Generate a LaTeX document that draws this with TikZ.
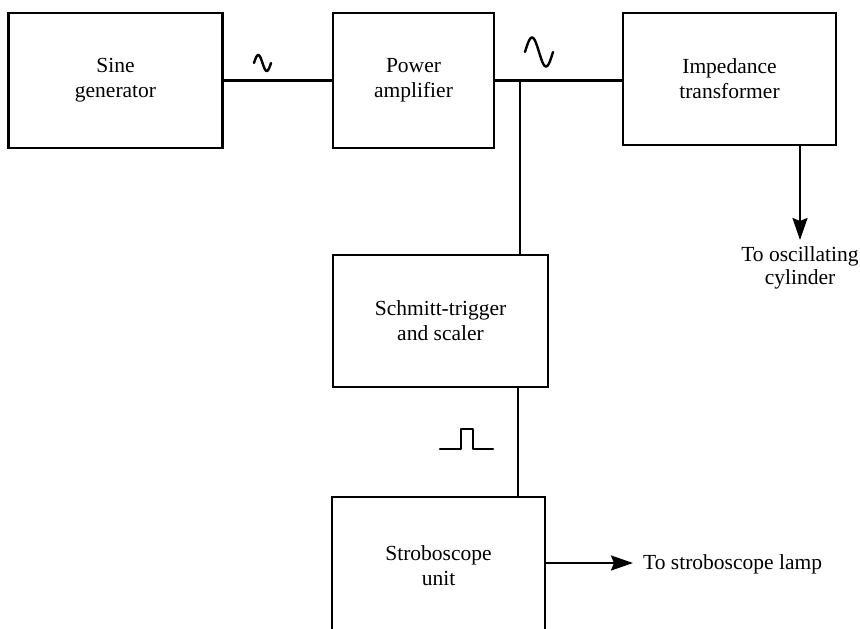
\documentclass[tikz,border=0pt]{standalone}
\usepackage{fontspec}
\setmainfont{Liberation Serif}
\usetikzlibrary{arrows.meta}
\begin{document}
\begin{tikzpicture}[x=1pt,y=-1pt,
  blk/.style={draw, line width=2.6pt, align=center, inner sep=0pt, outer sep=0pt, font=\fontsize{21.5}{25}\selectfont},
  wire/.style={line width=2.2pt},
  sig/.style={line width=2.4pt, line cap=round, line join=round},
  lbl/.style={font=\fontsize{21.5}{23}\selectfont, inner sep=0pt, align=center},
  arr/.style={wire, -{Stealth[length=22pt,width=15pt,inset=3pt]}}]
\useasboundingbox (0,0) rectangle (860,629);
\clip (0,0) rectangle (860,629);
\node[blk, minimum width=214pt, minimum height=135pt] (sine) at (115.5,80.5) {Sine\\generator};
\node[blk, minimum width=161pt, minimum height=135pt] (power) at (413.5,80.5) {Power\\amplifier};
\node[blk, minimum width=213pt, minimum height=132pt] (imp) at (729.5,79) {Impedance\\transformer};
\node[blk, minimum width=215pt, minimum height=132pt] (schmitt) at (440.5,321) {Schmitt-trigger\\and scaler};
\node[blk, minimum width=213pt, minimum height=138pt] (strobe) at (438.5,566) {Stroboscope\\unit};
% connectors
\draw[wire] (sine.east) -- (power.west);
\draw[wire] (power.east) -- (power.east -| imp.west);
\coordinate (j) at (520,0);
\draw[wire] (j |- power.east) -- (j |- schmitt.north);
\coordinate (k) at (518,0);
\draw[wire] (k |- schmitt.south) -- (k |- strobe.north);
\coordinate (oscend) at (800,240);
\draw[arr] (imp.south -| oscend) -- (oscend);
\node[lbl, anchor=north] (osc) at (800,246) {To oscillating\\cylinder};
\coordinate (lampend) at (633,563);
\draw[arr] (strobe.east |- lampend) -- (lampend);
\node[lbl, anchor=base west] (lamp) at (643,569) {To stroboscope lamp};
% signal symbols
\draw[sig] plot[domain=0:1, samples=40] ({254+17*\x}, {63-8*sin(360*\x)});
\draw[sig] plot[domain=0:1, samples=50] ({525+28*\x}, {52-14.5*sin(360*\x)});
\draw[sig] (440,449) -- (461,449) -- (461,429) -- (473,429) -- (473,449) -- (493,449);
\end{tikzpicture}
\end{document}
